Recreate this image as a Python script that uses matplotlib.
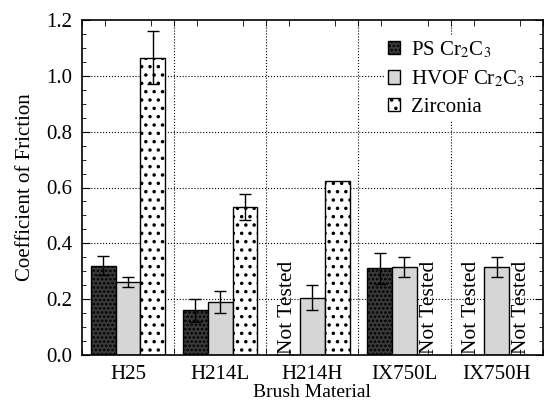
import matplotlib
matplotlib.use("Agg")
import matplotlib.pyplot as plt
import numpy as np
from matplotlib.ticker import MultipleLocator, FixedLocator

plt.rcParams['font.family'] = ['Liberation Serif', 'DejaVu Serif']
plt.rcParams['mathtext.fontset'] = 'stix'
plt.rcParams['hatch.linewidth'] = 1.3

categories = ["H25", "H214L", "H214H", "IX750L", "IX750H"]
series_names = ["PS Cr$_2$C$_3$", "HVOF Cr$_2$C$_3$", "Zirconia"]
ps_vals = [0.32, 0.16, np.nan, 0.31, np.nan]
ps_err = [0.035, 0.04, np.nan, 0.055, np.nan]
hvof_vals = [0.26, 0.19, 0.205, 0.315, 0.315]
hvof_err = [0.018, 0.04, 0.045, 0.035, 0.035]
zr_vals = [1.065, 0.53, 0.625, np.nan, np.nan]
zr_err = [0.095, 0.045, 0.0, np.nan, np.nan]

fig = plt.figure(figsize=(5.46, 4.0), dpi=100)
ax = fig.add_axes([0.150, 0.1125, 0.844, 0.8375])

x = np.arange(len(categories))
w = 0.27
styles = [
    dict(facecolor="#3a3a3a", hatch="....", edgecolor="black"),
    dict(facecolor="#d6d6d6", hatch="", edgecolor="black"),
    dict(facecolor="white", hatch="..", edgecolor="black"),
]
vals = [ps_vals, hvof_vals, zr_vals]
errs = [ps_err, hvof_err, zr_err]
for i, (v, e, st, name) in enumerate(zip(vals, errs, styles, series_names)):
    pos = x + (i - 1) * w
    v = np.array(v, dtype=float)
    e = np.array(e, dtype=float)
    ax.bar(pos, np.nan_to_num(v), w, label=name, linewidth=1.0, zorder=2, **st)
    mask = ~np.isnan(v) & (np.nan_to_num(e) > 0)
    ax.errorbar(pos[mask], v[mask], yerr=e[mask], fmt='none', ecolor='black',
                elinewidth=1.0, capsize=4, capthick=1.0, zorder=3)
    for p, val in zip(pos, v):
        if np.isnan(val):
            ax.text(p, 0.005, "Not Tested", rotation=90, ha='center', va='bottom',
                    fontsize=15.5, zorder=4)

ax.set_xlim(-0.5, 4.5)
ax.set_ylim(0, 1.2)
ax.set_xticks(x)
ax.set_xticklabels(categories, fontsize=15)
ax.tick_params(axis='x', which='major', length=0, pad=7)
ax.xaxis.set_minor_locator(FixedLocator([v for v in np.arange(-0.5, 4.51, 0.25)
                                         if abs(v - round(v)) > 1e-6]))
ax.set_yticks(np.arange(0, 1.21, 0.2))
ax.set_yticklabels([f"{t:.1f}" for t in np.arange(0, 1.21, 0.2)], fontsize=15)
ax.yaxis.set_minor_locator(MultipleLocator(0.05))
ax.tick_params(axis='both', which='both', direction='in', top=True, right=True)
ax.tick_params(axis='y', which='major', length=6, pad=7)
ax.tick_params(axis='y', which='minor', length=3)
ax.tick_params(axis='x', which='minor', length=4)

for sep in [0.5, 1.5, 2.5, 3.5]:
    ax.axvline(sep, color='black', linestyle=':', linewidth=0.8, zorder=1)
for yy in np.arange(0.2, 1.19, 0.2):
    ax.axhline(yy, color='black', linestyle=':', linewidth=0.8, zorder=1)

ax.set_ylabel("Coefficient of Friction", fontsize=15, labelpad=8)
ax.set_xlabel("Brush Material", fontsize=14, labelpad=0)
for s in ax.spines.values():
    s.set_linewidth(1.2)

leg = ax.legend(loc='upper left', bbox_to_anchor=(0.655, 0.955), frameon=True,
                fontsize=15, handlelength=0.6, handleheight=0.6, handletextpad=0.5,
                labelspacing=0.42, borderaxespad=0, borderpad=0.2, fancybox=False)
leg.get_frame().set_facecolor("white")
leg.get_frame().set_edgecolor("none")
leg.get_frame().set_alpha(1.0)
leg.set_zorder(5)
fig.savefig("out.png", dpi=100)
